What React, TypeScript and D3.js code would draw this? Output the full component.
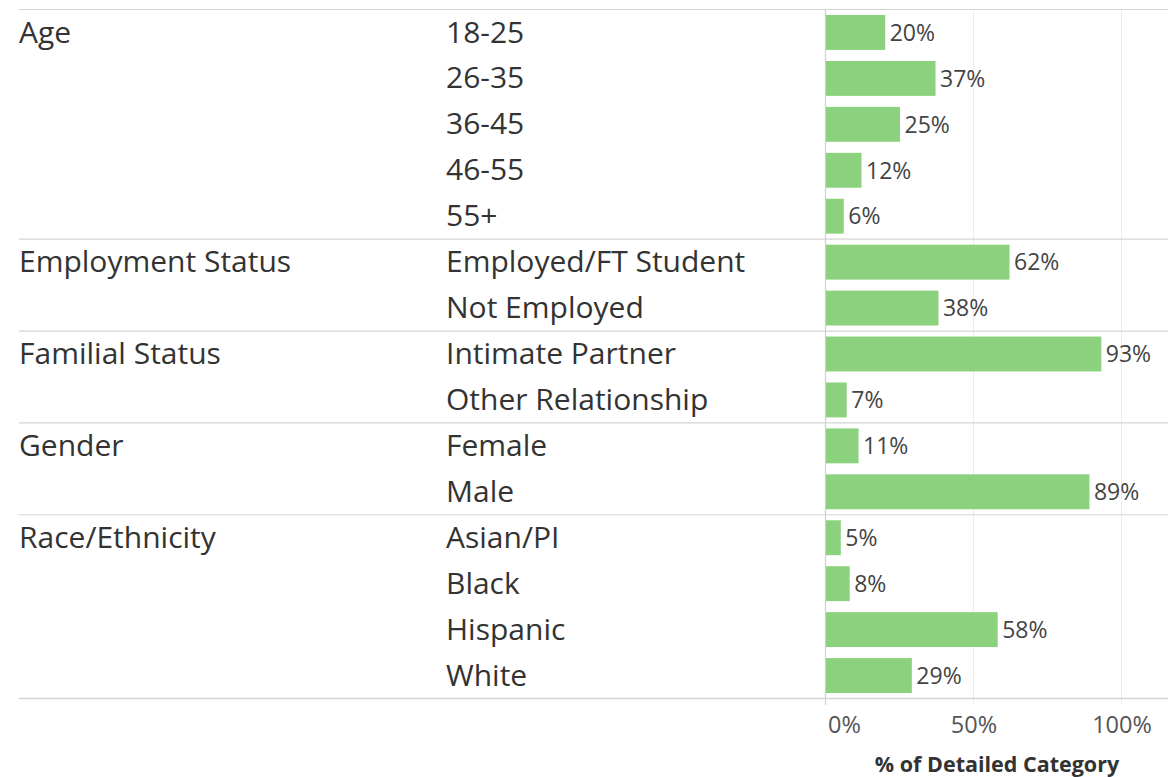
import React from "react";
import * as d3 from "d3";

const groups = ["Age", "Employment Status", "Familial Status", "Gender", "Race/Ethnicity"];
const groupSizes = [5, 2, 2, 2, 4];
const categories = [
  "18-25", "26-35", "36-45", "46-55", "55+",
  "Employed/FT Student", "Not Employed",
  "Intimate Partner", "Other Relationship",
  "Female", "Male",
  "Asian/PI", "Black", "Hispanic", "White",
];
const values = [20, 37, 25, 12, 6, 62, 38, 93, 7, 11, 89, 5, 8, 58, 29];
const ticks = [0, 50, 100];
const axisTitle = "% of Detailed Category";

const W = 1168;
const H = 777;
const top = 9.5;
const bottom = 698.5;
const xLeft = 825.5;
const xRight = 1121.5;
const FONT = "'Open Sans', Lato, sans-serif";

export default function App() {
  const y = d3.scaleBand<string>().domain(categories).range([top, bottom]).paddingInner(0.24).paddingOuter(0.12);
  const step = (bottom - top) / categories.length;
  const x = d3.scaleLinear().domain([0, 100]).range([xLeft, xRight]);
  let idx = 0;
  const groupStarts = groupSizes.map((s) => {
    const st = idx;
    idx += s;
    return st;
  });
  return (
    <svg width={W} height={H} style={{ position: "absolute", left: 0, top: 0, background: "#fff" }} fontFamily={FONT}>
      {ticks.slice(1).map((t) => (
        <line key={t} x1={x(t)} x2={x(t)} y1={top} y2={705} stroke="#ececec" strokeWidth={1} />
      ))}
      {groupStarts.map((st) => (
        <line key={st} x1={19} x2={W} y1={top + st * step} y2={top + st * step} stroke="#d4d4d4" strokeWidth={1.2} />
      ))}
      <line x1={19} x2={W} y1={bottom} y2={bottom} stroke="#d4d4d4" strokeWidth={1.5} />
      <line x1={x(0)} x2={x(0)} y1={top} y2={705} stroke="#cfcfcf" strokeWidth={1.2} />
      {groups.map((g, i) => (
        <text key={g} x={19} y={top + groupStarts[i] * step + 33} fontSize={30} fill="#333">
          {g}
        </text>
      ))}
      {categories.map((c, i) => (
        <g key={c}>
          <text x={446} y={top + i * step + 33} fontSize={30} fill="#333">
            {c}
          </text>
          <rect x={x(0) + 0.5} y={y(c)} width={x(values[i]) - x(0)} height={y.bandwidth()} fill="#8cd17d" />
          <text x={x(values[i]) + 5} y={(y(c) as number) + y.bandwidth() / 2} dy="0.36em" fontSize={23} fill="#444">
            {values[i]}%
          </text>
        </g>
      ))}
      {ticks.map((t, i) => (
        <text
          key={t}
          x={i === 0 ? x(t) + 2.5 : x(t) + 0.5}
          y={733}
          textAnchor={i === 0 ? "start" : "middle"}
          fontSize={23.5}
          fill="#555"
        >
          {t}%
        </text>
      ))}
      <text x={997} y={771.5} textAnchor="middle" fontSize={21.5} fontWeight="bold" fill="#333">
        {axisTitle}
      </text>
    </svg>
  );
}
